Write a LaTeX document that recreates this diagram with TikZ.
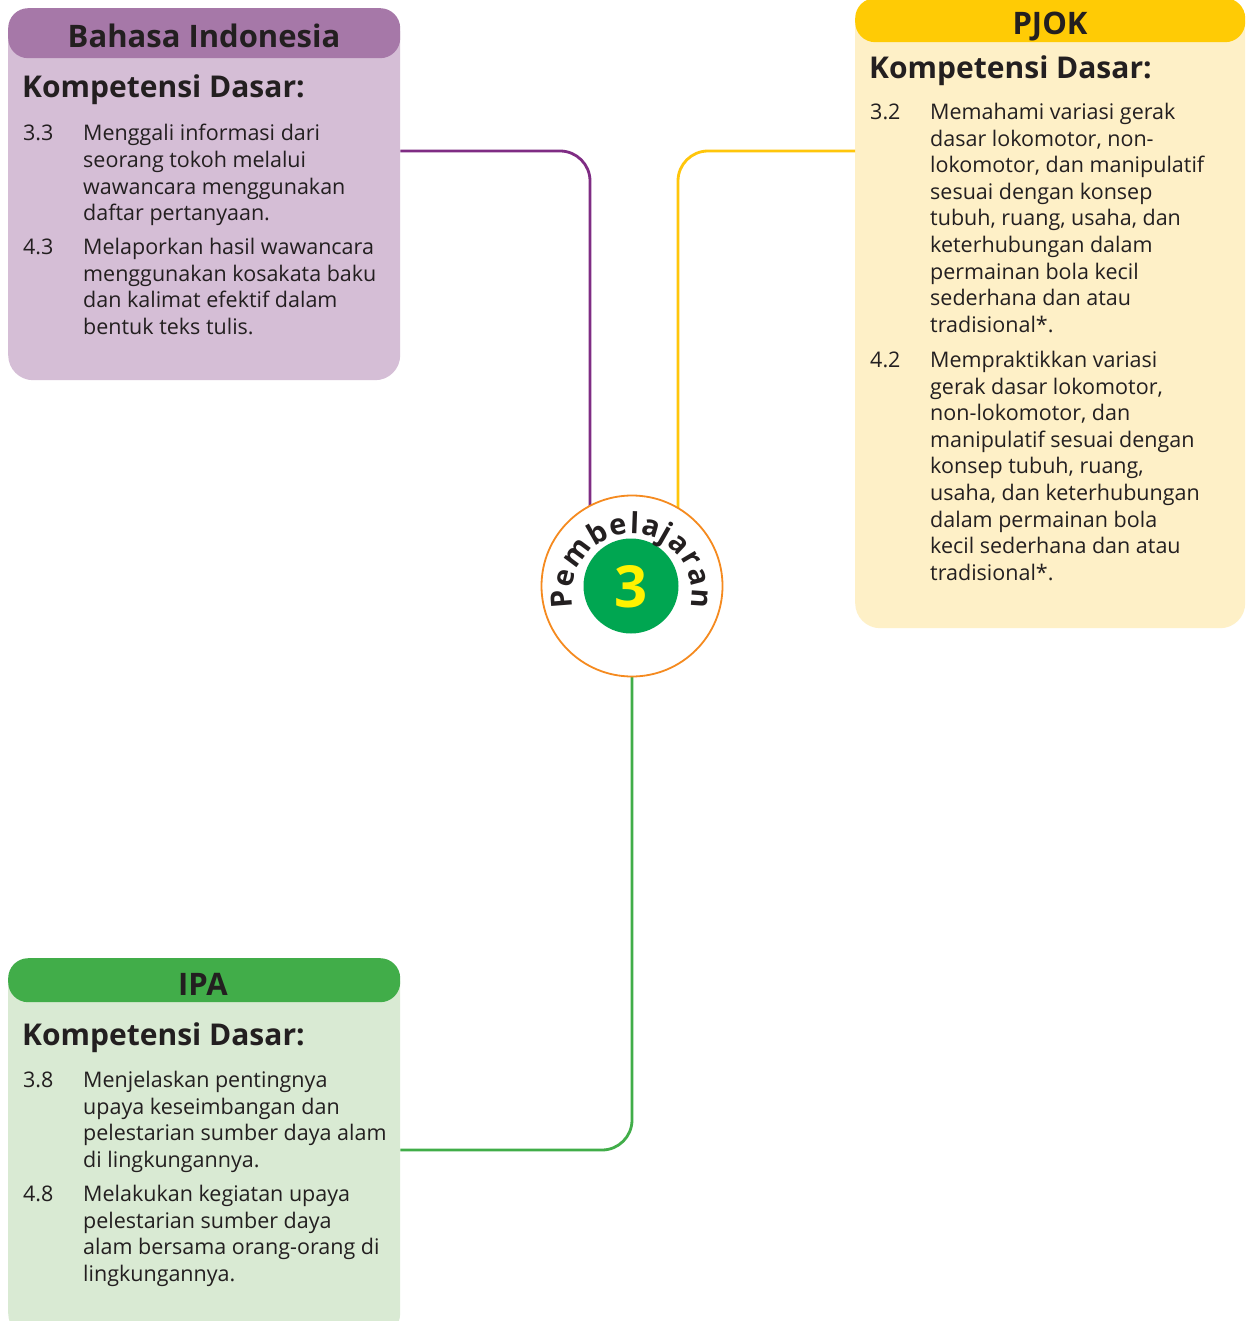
\documentclass[tikz,border=0pt]{standalone}
\usepackage{fontspec}
\setmainfont{Open Sans}
\usetikzlibrary{decorations.text}
\definecolor{txt}{HTML}{231F20}
\definecolor{puH}{HTML}{A678A8}
\definecolor{puB}{HTML}{D5BED6}
\definecolor{puL}{HTML}{7F2C84}
\definecolor{yeH}{HTML}{FFCB05}
\definecolor{yeB}{HTML}{FEF0C7}
\definecolor{yeL}{HTML}{FFC60B}
\definecolor{grH}{HTML}{41AD49}
\definecolor{grB}{HTML}{D9EAD3}
\definecolor{grL}{HTML}{41AD49}
\definecolor{orC}{HTML}{F58A1F}
\definecolor{inG}{HTML}{00A651}
\definecolor{thY}{HTML}{FFF200}
\newcommand\bodyf{\fontsize{21.5}{26}\selectfont}
\newcommand\kdf{\fontsize{30}{34}\selectfont\bfseries}
\newcommand\headf{\fontsize{31}{34}\selectfont\bfseries}
\newcommand\circf{\fontsize{29}{34}\selectfont\bfseries}
\newcommand\threef{\fontsize{58}{60}\selectfont\bfseries}
\newcommand\kdlist[6]{%
  \node[bodytxt, name=#1n] at ({#2},{#4}) {#5};
  \foreach \t [count=\i from 0] in {#6} {\node[bodytxt, name=#1l\i] at ({#3},{#4+26.6*\i}) {\t};}
}
\begin{document}
\begin{tikzpicture}[x=1pt,y=-1pt,
  bodybox/.style={anchor=north west, inner sep=0pt, rounded corners=25pt, draw=none},
  headbox/.style={anchor=north west, inner sep=0pt, rounded corners=20pt, draw=none},
  titletxt/.style={anchor=base, inner sep=0pt, font=\headf, text=txt},
  kdtxt/.style={anchor=base west, inner sep=0pt, font=\kdf, text=txt},
  bodytxt/.style={anchor=base west, inner sep=0pt, font=\bodyf, text=txt},
  conn/.style={line width=2.8pt, rounded corners=30pt}]
\useasboundingbox (0,0) rectangle (1245,1321);
\fill[white] (0,0) rectangle (1245,1321);

% boxes
\node[bodybox, fill=puB, minimum width=392pt, minimum height=372pt] (bibody) at (8,8) {};
\node[headbox, fill=puH, minimum width=392pt, minimum height=50pt] (bihead) at (8,8) {};
\node[bodybox, fill=yeB, minimum width=390pt, minimum height=630pt] (pjbody) at (855,-2) {};
\node[headbox, fill=yeH, minimum width=390pt, minimum height=44pt] (pjhead) at (855,-2) {};
\node[bodybox, fill=grB, minimum width=392pt, minimum height=380pt] (ipbody) at (8,958) {};
\node[headbox, fill=grH, minimum width=392pt, minimum height=44pt] (iphead) at (8,958) {};

% titles
\node[titletxt] (bititle) at (204,48) {Bahasa Indonesia};
\node[titletxt] (pjtitle) at (1050,35) {PJOK};
\node[titletxt] (iptitle) at (203,995) {IPA};

\node[kdtxt] (bikd) at (22,98) {Kompetensi Dasar:};
\node[kdtxt] (pjkd) at (869,79) {Kompetensi Dasar:};
\node[kdtxt] (ipkd) at (22,1045) {Kompetensi Dasar:};

\kdlist{biA}{23}{83}{141}{3.3}{Menggali informasi dari, seorang tokoh melalui, wawancara menggunakan, daftar pertanyaan.}
\kdlist{biB}{23}{83}{254.5}{4.3}{Melaporkan hasil wawancara, menggunakan kosakata baku, dan kalimat efektif dalam, bentuk teks tulis.}
\kdlist{pjA}{870}{930}{119.5}{3.2}{Memahami variasi gerak, {dasar lokomotor, non-}, {lokomotor, dan manipulatif}, sesuai dengan konsep, {tubuh, ruang, usaha, dan}, keterhubungan dalam, permainan bola kecil, sederhana dan atau, tradisional*.}
\kdlist{pjB}{870}{930}{367.5}{4.2}{Mempraktikkan variasi, {gerak dasar lokomotor,}, {non-lokomotor, dan}, manipulatif sesuai dengan, {konsep tubuh, ruang,}, {usaha, dan keterhubungan}, dalam permainan bola, kecil sederhana dan atau, tradisional*.}
\kdlist{ipA}{23}{83}{1087.5}{3.8}{Menjelaskan pentingnya, upaya keseimbangan dan, pelestarian sumber daya alam, di lingkungannya.}
\kdlist{ipB}{23}{83}{1201.5}{4.8}{Melakukan kegiatan upaya, pelestarian sumber daya, alam bersama orang-orang di, lingkungannya.}

% centre
\coordinate (cc) at (632,586);
\draw[conn, draw=puL] (bibody.east |- 0,151) -| ([xshift=-42pt]cc);
\draw[conn, draw=yeL] (pjbody.west |- 0,151) -| ([xshift=46pt]cc);
\draw[conn, draw=grL] (cc) |- (ipbody.east |- 0,1150);

\node[circle, draw=orC, line width=1.8pt, fill=white, minimum size=181pt, inner sep=0pt] (ctr) at (cc) {};
\node[circle, fill=inG, minimum size=95pt, inner sep=0pt] (ctrin) at (631,586) {};
\node[font=\threef, text=thY, inner sep=0pt] (three) at (631,587) {3};
\begin{scope}[shift={([yshift=-8pt]ctr.center)}, x=1pt, y=1pt]
\path[decorate, decoration={text along path, text={|\circf|Pembelajaran}, text align={fit to path}, text color=txt}] (193:60) arc[start angle=193, end angle=-13, radius=60];
\end{scope}
\end{tikzpicture}
\end{document}
